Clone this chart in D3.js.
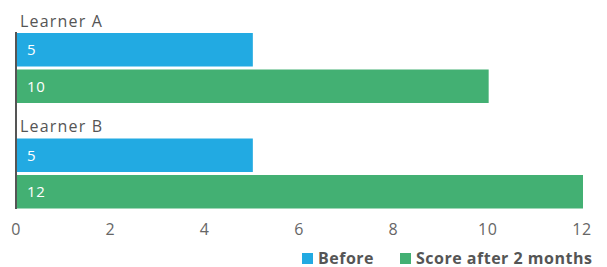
<!DOCTYPE html>
<html>
<head>
<meta charset="UTF-8">
<title>Learner scores</title>
<script src="https://cdn.jsdelivr.net/npm/d3@7"></script>
<style>
	body { margin: 0; background: #fff; font-family: "Open Sans", sans-serif; }
	.group-label { font-size: 16px; fill: #555; letter-spacing: 1.2px; }
	.value-label { font-size: 15px; fill: #fff; letter-spacing: 0.6px; }
	.tick-label { font-size: 16px; fill: #666; letter-spacing: 0.5px; }
	.legend text { font-size: 16px; font-weight: bold; fill: #555; letter-spacing: 0.5px; }
</style>
</head>
<body>
<svg id="chart" width="607" height="267"></svg>
<script>
	const learners = ['Learner A', 'Learner B'];
	const series = ['Before', 'Score after 2 months'];
	const before = [5, 5];
	const after = [10, 12];
	const ticks = [0, 2, 4, 6, 8, 10, 12];
	const colors = ['#22aae2', '#43b073'];

	const values = [before, after];
	const svg = d3.select('#chart');

	const x = d3.scaleLinear().domain([0, 12]).range([17, 583]);
	const y0 = d3.scaleBand().domain(learners).range([10, 221]);
	const y1 = d3.scaleBand().domain(series).range([23, 93]).paddingInner(0.082);

	const groups = svg.selectAll('.group')
		.data(learners)
		.enter().append('g')
		.attr('class', 'group')
		.attr('transform', d => `translate(0,${y0(d)})`);

	groups.append('text')
		.attr('class', 'group-label')
		.attr('x', 20)
		.attr('y', 16.5)
		.text(d => d);

	groups.each(function (l, li) {
		const g = d3.select(this);
		series.forEach((s, si) => {
			const v = values[si][li];
			g.append('rect')
				.attr('x', x(0))
				.attr('y', y1(s))
				.attr('width', x(v) - x(0))
				.attr('height', y1.bandwidth())
				.attr('fill', colors[si]);
			g.append('text')
				.attr('class', 'value-label')
				.attr('x', x(0) + 10)
				.attr('y', y1(s) + y1.bandwidth() / 2 + 5.5)
				.text(v);
		});
	});

	// vertical axis line
	svg.append('line')
		.attr('x1', 16).attr('x2', 16)
		.attr('y1', 32).attr('y2', 209)
		.attr('stroke', '#555')
		.attr('stroke-width', 2);

	// x axis tick labels
	svg.selectAll('.tick-label')
		.data(ticks)
		.enter().append('text')
		.attr('class', 'tick-label')
		.attr('x', d => x(d) - 1)
		.attr('y', 235)
		.attr('text-anchor', 'middle')
		.text(d => d);

	// legend
	const legendX = [302, 400];
	const legend = svg.append('g').attr('class', 'legend');
	series.forEach((s, i) => {
		legend.append('rect')
			.attr('x', legendX[i]).attr('y', 253)
			.attr('width', 11).attr('height', 11)
			.attr('fill', colors[i]);
		legend.append('text')
			.attr('x', legendX[i] + 16)
			.attr('y', 264)
			.text(s);
	});
</script>
</body>
</html>
